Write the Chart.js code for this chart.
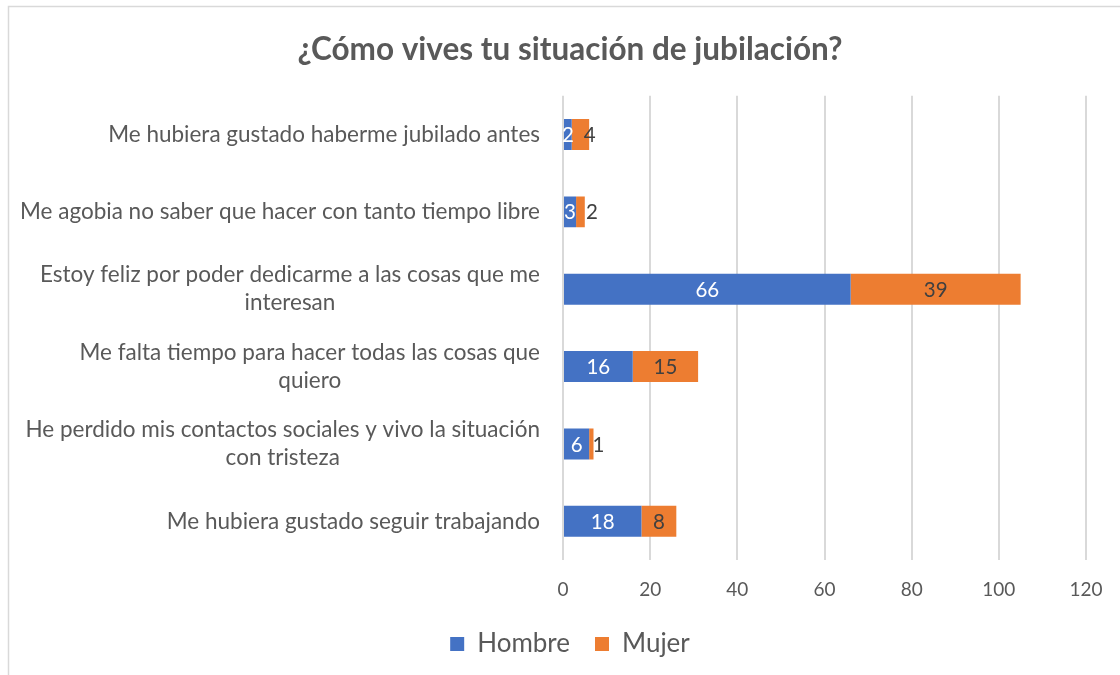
<!DOCTYPE html>
<html>
<head>
<meta charset="utf-8">
<script src="https://cdn.jsdelivr.net/npm/chart.js@4/dist/chart.umd.min.js"></script>
<style>
  html, body { margin: 0; padding: 0; background: #fff; overflow: hidden; }
  #wrap { position: absolute; left: 0; top: 0; width: 1140px; height: 690px; }
</style>
</head>
<body>
<div id="wrap"><canvas id="c" width="1140" height="690"></canvas></div>
<script>
  // chart data
  const categories = [
    ['Me hubiera gustado haberme jubilado antes'],
    ['Me agobia no saber que hacer con tanto tiempo libre'],
    ['Estoy feliz por poder dedicarme a las cosas que me', 'interesan'],
    ['Me falta tiempo para hacer todas las cosas que', 'quiero'],
    ['He perdido mis contactos sociales y vivo la situación', 'con tristeza'],
    ['Me hubiera gustado seguir trabajando']
  ];
  const hombre = [2, 3, 66, 16, 6, 18];
  const mujer = [4, 2, 39, 15, 1, 8];
  const xTicks = [0, 20, 40, 60, 80, 100, 120];

  const FONT = 'Lato, "Open Sans", sans-serif';
  const GREY = '#595959';
  const LABEL_PAD = 23;
  const PAD_LEFT = 54;

  // frame around the chart, like the office chart border
  const framePlugin = {
    id: 'frame',
    beforeDraw(chart) {
      const ctx = chart.ctx;
      ctx.save();
      ctx.strokeStyle = '#d9d9d9';
      ctx.lineWidth = 1.5;
      ctx.strokeRect(8.5, 6.5, chart.width + 20, chart.height + 20);
      ctx.restore();
    }
  };

  // category labels: block right-aligned to the axis, lines centred inside it
  const catLabelPlugin = {
    id: 'catLabels',
    afterDraw(chart) {
      const ctx = chart.ctx;
      const y = chart.scales.y;
      const right = y.right - LABEL_PAD;
      const size = 22.5, lh = 28;
      ctx.save();
      ctx.font = size + 'px ' + FONT;
      ctx.fillStyle = GREY;
      ctx.textAlign = 'center';
      ctx.textBaseline = 'middle';
      categories.forEach((lines, i) => {
        const cy = y.getPixelForValue(i);
        const w = Math.max(...lines.map(l => ctx.measureText(l).width));
        const cx = right - w / 2;
        const top = cy - (lines.length - 1) * lh / 2;
        lines.forEach((l, k) => ctx.fillText(l, cx, top + k * lh));
      });
      ctx.restore();
    }
  };

  // value labels in the bar segments
  const valueLabelPlugin = {
    id: 'valueLabels',
    afterDatasetsDraw(chart) {
      const ctx = chart.ctx;
      const m0 = chart.getDatasetMeta(0).data;
      const m1 = chart.getDatasetMeta(1).data;
      ctx.save();
      ctx.font = '20.5px ' + FONT;
      ctx.textAlign = 'center';
      ctx.textBaseline = 'middle';
      m0.forEach((bar, i) => {
        const t0 = String(hombre[i]);
        const c0 = (bar.x + bar.base) / 2;
        const w0 = ctx.measureText(t0).width;
        ctx.fillStyle = '#ffffff';
        ctx.fillText(t0, c0, bar.y + 1);

        const b1 = m1[i];
        const t1 = String(mujer[i]);
        const w1 = ctx.measureText(t1).width;
        let c1 = (b1.x + b1.base) / 2;
        c1 = Math.max(c1, c0 + w0 / 2 + 10 + w1 / 2);
        ctx.fillStyle = '#404040';
        ctx.fillText(t1, c1, b1.y + 1);
      });
      ctx.restore();
    }
  };

  new Chart(document.getElementById('c'), {
    type: 'bar',
    data: {
      labels: categories,
      datasets: [
        { label: 'Hombre', data: hombre, backgroundColor: '#4472C4', borderWidth: 0 },
        { label: 'Mujer', data: mujer, backgroundColor: '#ED7D31', borderWidth: 0 }
      ]
    },
    options: {
      indexAxis: 'y',
      responsive: false,
      animation: false,
      devicePixelRatio: 1,
      layout: { padding: { left: PAD_LEFT, right: 54, top: 0, bottom: 23 } },
      datasets: { bar: { categoryPercentage: 1, barPercentage: 0.4 } },
      plugins: {
        title: {
          display: true,
          text: '¿Cómo vives tu situación de jubilación?',
          color: GREY,
          font: { family: FONT, size: 31.5, weight: 'bold' },
          padding: { top: 31, bottom: 27 }
        },
        legend: {
          position: 'bottom',
          labels: {
            color: GREY,
            font: { family: FONT, size: 26 },
            boxWidth: 14,
            boxHeight: 14,
            padding: 25
          }
        },
        tooltip: { enabled: false }
      },
      scales: {
        x: {
          stacked: true,
          min: 0,
          max: 120,
          afterBuildTicks: s => { s.ticks = xTicks.map(v => ({ value: v })); },
          grid: { color: '#d9d9d9', lineWidth: 2, drawTicks: false },
          border: { display: false },
          ticks: { color: GREY, font: { family: FONT, size: 19 }, padding: 18 },
          afterFit: s => { s.height = 46; }
        },
        y: {
          stacked: true,
          grid: { display: false, drawTicks: false },
          border: { display: false },
          ticks: { color: 'rgba(0,0,0,0)', font: { family: FONT, size: 20 }, padding: LABEL_PAD },
          afterFit: s => { s.width = 563 - PAD_LEFT; }
        }
      }
    },
    plugins: [framePlugin, catLabelPlugin, valueLabelPlugin]
  });
</script>
</body>
</html>
